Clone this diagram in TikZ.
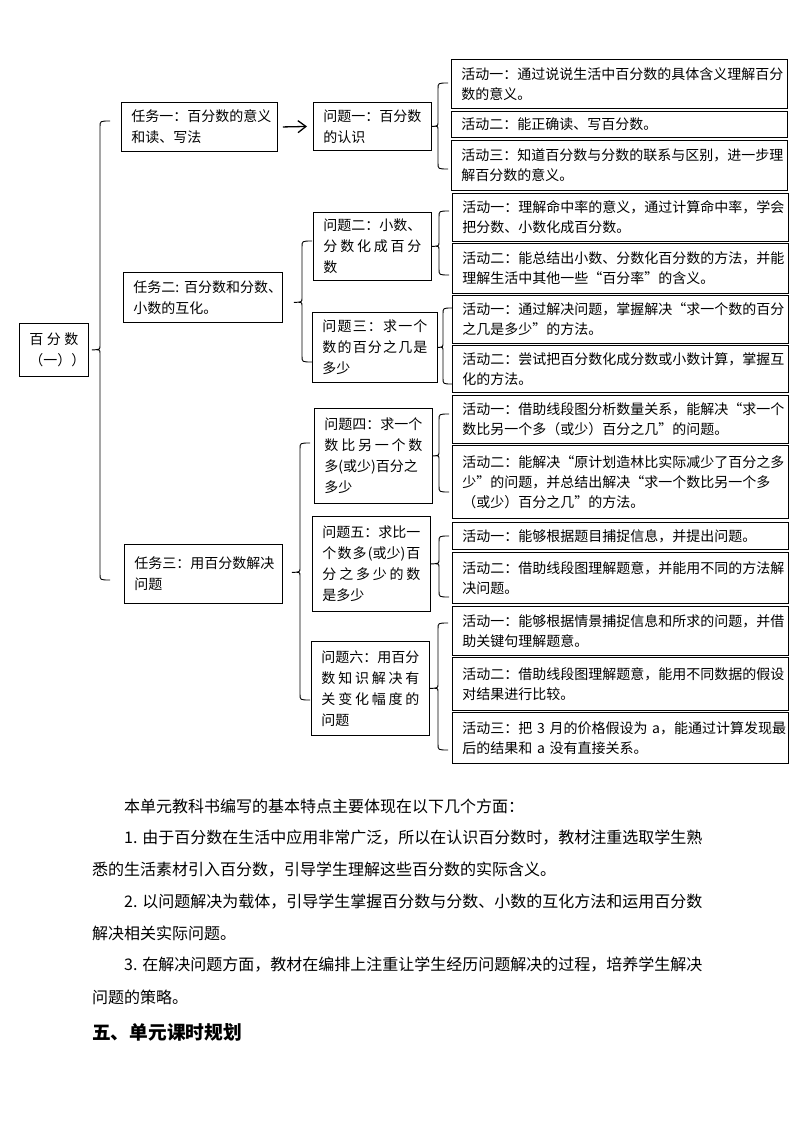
\documentclass[tikz,border=0pt]{standalone}
\usepackage{fontspec}
\setmainfont{Noto Sans CJK SC}
\usetikzlibrary{arrows.meta,calc}
\tikzset{
  box/.style={draw, line width=0.9pt, anchor=north west, inner xsep=10pt, inner ysep=0pt,
    align=left, font=\fontsize{14pt}{21pt}\selectfont},
  act/.style={box, font=\fontsize{14pt}{20pt}\selectfont},
  brc/.style={line width=0.9pt},
  body/.style={anchor=west, inner sep=0pt, font=\fontsize{16pt}{20pt}\selectfont},
}
\newcommand\jline[1]{\leavevmode\hbox to\hsize{#1}}
\newcommand\bnode[6]{%
  \pgfmathsetmacro\bw{#5-#3}\pgfmathsetmacro\bh{#6-#4}\pgfmathsetmacro\tw{\bw-20}%
  \node[#1, minimum width=\bw pt, minimum height=\bh pt, text width=\tw pt] (#2) at (#3,#4)}
\newcommand\curlyb[6]{% #1 tip, #2 spine x, #3 top, #4 mid, #5 bottom, #6 hook x
  \draw[brc] (#6,#3) .. controls (#2,#3) .. (#2,#3+6) -- (#2,#4-4) .. controls (#2,#4) .. (#1)
    .. controls (#2,#4) .. (#2,#4+4) -- (#2,#5-6) .. controls (#2,#5) .. (#6,#5);}
\begin{document}
\begin{tikzpicture}[x=1pt,y=-1pt]
\useasboundingbox (0,0) rectangle (794,1123);

% root
\bnode{box,align=center}{root}{19}{323}{88}{376}{\jline{百\hfill 分\hfill 数}\\（一））};

% tasks
\bnode{box}{t1}{121}{102}{277}{151}{任务一：百分数的意义\\和读、写法};
\bnode{box}{t2}{123}{272}{282}{322}{任务二:~百分数和分数、\\小数的互化。};
\bnode{box}{t3}{124}{544}{282}{603}{任务三：用百分数解决\\问题};

% questions
\bnode{box}{q1}{313}{102}{431}{150}{问题一：百分数\\的认识};
\bnode{box}{q2}{313}{212}{431}{280}{问题二：小数、\\\jline{分\hfill 数\hfill 化\hfill 成\hfill 百\hfill 分}\\数};
\bnode{box}{q3}{312}{312}{437}{382}{\jline{问\hfill 题\hfill 三\hfill ：\hfill 求\hfill 一\hfill 个}\\\jline{数\hfill 的\hfill 百\hfill 分\hfill 之\hfill 几\hfill 是}\\多少};
\bnode{box}{q4}{314}{408}{432}{503}{问题四：求一个\\\jline{数\hfill 比\hfill 另\hfill 一\hfill 个\hfill 数}\\多(或少)百分之\\多少};
\bnode{box}{q5}{312}{516}{430}{611}{问题五：求比一\\\jline{个\hfill 数\hfill 多\hfill (或少)\hfill 百}\\\jline{分\hfill 之\hfill 多\hfill 少\hfill 的\hfill 数}\\是多少};
\bnode{box}{q6}{311}{641}{429}{735}{问题六：用百分\\\jline{数\hfill 知\hfill 识\hfill 解\hfill 决\hfill 有}\\\jline{关\hfill 变\hfill 化\hfill 幅\hfill 度\hfill 的}\\问题};

% activities
\bnode{act}{a11}{451}{59}{787}{108}{活动一：通过说说生活中百分数的具体含义理解百分\\数的意义。};
\bnode{act}{a12}{451}{111}{787}{137}{活动二：能正确读、写百分数。};
\bnode{act}{a13}{451}{140}{787}{190}{活动三：知道百分数与分数的联系与区别，进一步理\\解百分数的意义。};
\bnode{act}{a21}{452}{193}{788}{241}{活动一：理解命中率的意义，通过计算命中率，学会\\把分数、小数化成百分数。};
\bnode{act}{a22}{452}{243}{788}{293}{活动二：能总结出小数、分数化百分数的方法，并能\\理解生活中其他一些“百分率”的含义。};
\bnode{act}{a31}{452}{295}{788}{343}{活动一：通过解决问题，掌握解决“求一个数的百分\\之几是多少”的方法。};
\bnode{act}{a32}{452}{345}{788}{392}{活动二：尝试把百分数化成分数或小数计算，掌握互\\化的方法。};
\bnode{act}{a41}{452}{395}{788}{443}{活动一：借助线段图分析数量关系，能解决“求一个\\数比另一个多（或少）百分之几”的问题。};
\bnode{act}{a42}{452}{445}{788}{518}{活动二：能解决“原计划造林比实际减少了百分之多\\少”的问题，并总结出解决“求一个数比另一个多\\（或少）百分之几”的方法。};
\bnode{act}{a51}{452}{522}{788}{549}{活动一：能够根据题目捕捉信息，并提出问题。};
\bnode{act}{a52}{452}{552}{788}{603}{活动二：借助线段图理解题意，并能用不同的方法解\\决问题。};
\bnode{act}{a61}{452}{606}{788}{655}{活动一：能够根据情景捕捉信息和所求的问题，并借\\助关键句理解题意。};
\bnode{act}{a62}{452}{657}{788}{710}{活动二：借助线段图理解题意，能用不同数据的假设\\对结果进行比较。};
\bnode{act}{a63}{452}{712}{788}{763}{活动三：把~3~月的价格假设为~a，能通过计算发现最\\后的结果和~a~没有直接关系。};

% arrow
\draw[line width=1.3pt, -{Straight Barb[length=8pt,width=12pt]}] ([xshift=5pt]t1.east) -- ([xshift=-6pt]q1.west);

% braces
\curlyb{[xshift=3pt]root.east}{100}{121}{349.5}{580}{110}
\curlyb{[xshift=11pt,yshift=-5pt]t2.east}{302}{241}{302}{362}{312}
\curlyb{[xshift=9pt,yshift=1.5pt]t3.east}{300}{443}{572}{700}{310}
\curlyb{q1.east}{438}{83}{126}{169}{448}
\curlyb{q2.east}{439}{211}{246}{275}{449}
\curlyb{q3.east}{443}{308}{347}{384}{452}
\curlyb{q4.east}{439}{414}{455.5}{492}{449}
\curlyb{q5.east}{439}{536}{563.5}{597}{449}
\curlyb{q6.east}{438}{623}{688}{750}{448}

% body text
\node[body] (p0) at (124,806) {本单元教科书编写的基本特点主要体现在以下几个方面：};
\node[body] (p1a) at (124,838) {1. 由于百分数在生活中应用非常广泛，所以在认识百分数时，教材注重选取学生熟};
\node[body] (p1b) at (92,870) {悉的生活素材引入百分数，引导学生理解这些百分数的实际含义。};
\node[body] (p2a) at (124,902) {2. 以问题解决为载体，引导学生掌握百分数与分数、小数的互化方法和运用百分数};
\node[body] (p2b) at (92,933) {解决相关实际问题。};
\node[body] (p3a) at (124,965) {3. 在解决问题方面，教材在编排上注重让学生经历问题解决的过程，培养学生解决};
\node[body] (p3b) at (92,997) {问题的策略。};
\node[body, font=\fontsize{18.7pt}{22pt}\selectfont\bfseries] (h5) at (92,1032) {五、单元课时规划};
\end{tikzpicture}
\end{document}
